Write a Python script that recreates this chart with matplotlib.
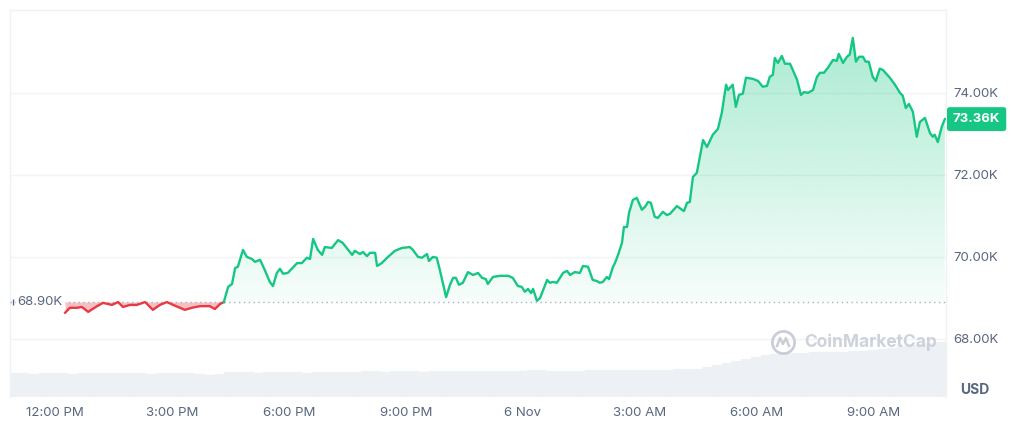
import numpy as np
import matplotlib.pyplot as plt
from matplotlib.patches import Polygon

plt.rcParams['font.family'] = ['Inter', 'DejaVu Sans']

# hours after 12:00 PM (5 Nov), price in thousand USD
red_hours = [0.26, 0.38, 0.56, 0.69, 0.85, 1.08, 1.23, 1.46, 1.62, 1.74, 1.92, 2.10,
             2.31, 2.51, 2.69, 2.87, 3.03, 3.33, 3.51, 3.72, 3.97, 4.10, 4.23, 4.33]
red_price = [68.64, 68.76, 68.76, 68.78, 68.66, 68.80, 68.88, 68.83, 68.90, 68.78, 68.83, 68.83,
             68.90, 68.71, 68.83, 68.90, 68.83, 68.71, 68.76, 68.80, 68.80, 68.73, 68.85, 68.90]

green_hours = [4.33, 4.44, 4.54, 4.62, 4.69, 4.82, 4.92, 5.05, 5.13, 5.26, 5.38, 5.51, 5.59,
               5.69, 5.77, 5.85, 5.97, 6.21, 6.33, 6.46, 6.54, 6.62, 6.74, 6.85, 6.92, 7.10,
               7.26, 7.38, 7.62, 7.69, 7.82, 7.90, 8.00, 8.08, 8.21, 8.26, 8.38, 8.54, 8.72,
               8.90, 9.10, 9.18, 9.31, 9.41, 9.54, 9.59, 9.69, 9.79, 9.87, 10.03, 10.13, 10.21,
               10.28, 10.36, 10.46, 10.59, 10.72, 10.85, 10.95, 11.05, 11.10, 11.23, 11.41,
               11.62, 11.74, 11.87, 11.97, 12.05, 12.13, 12.21, 12.26, 12.36, 12.44, 12.62,
               12.69, 12.77, 12.87, 13.03, 13.13, 13.21, 13.33, 13.46, 13.54, 13.67, 13.79,
               13.90, 13.97, 14.05, 14.15, 14.21, 14.31, 14.36, 14.44, 14.54, 14.59, 14.67,
               14.72, 14.82, 14.92, 15.05, 15.13, 15.21, 15.28, 15.38, 15.46, 15.59, 15.69,
               15.77, 15.95, 16.08, 16.13, 16.21, 16.28, 16.36, 16.46, 16.62, 16.72, 16.87,
               17.00, 17.10, 17.21, 17.26, 17.38, 17.46, 17.54, 17.64, 17.72, 17.90, 18.03,
               18.15, 18.26, 18.33, 18.41, 18.46, 18.54, 18.64, 18.72, 18.85, 18.92, 19.03,
               19.13, 19.21, 19.31, 19.44, 19.54, 19.62, 19.72, 19.82, 19.95, 20.05, 20.10,
               20.21, 20.31, 20.38, 20.46, 20.54, 20.62, 20.72, 20.79, 20.87, 20.97, 21.05,
               21.15, 21.23, 21.41, 21.54, 21.67, 21.74, 21.82, 21.90, 22.00, 22.10, 22.18,
               22.31, 22.44, 22.51, 22.56, 22.64, 22.74, 22.82]
green_price = [68.90, 69.27, 69.34, 69.73, 69.76, 70.17, 70.00, 69.95, 69.88, 69.93, 69.68, 69.39,
               69.29, 69.61, 69.71, 69.59, 69.61, 69.85, 69.85, 69.98, 69.95, 70.44, 70.17,
               70.05, 70.24, 70.22, 70.41, 70.34, 70.05, 70.15, 70.07, 70.12, 70.02, 70.10,
               70.10, 69.78, 69.85, 70.00, 70.15, 70.22, 70.24, 70.17, 70.00, 69.98, 70.07,
               69.90, 70.00, 69.98, 69.68, 69.02, 69.32, 69.49, 69.49, 69.32, 69.37, 69.63,
               69.56, 69.61, 69.49, 69.46, 69.34, 69.51, 69.54, 69.54, 69.49, 69.29, 69.27,
               69.15, 69.22, 69.12, 69.22, 68.93, 69.00, 69.44, 69.37, 69.39, 69.37, 69.61,
               69.66, 69.56, 69.63, 69.61, 69.78, 69.76, 69.44, 69.41, 69.37, 69.39, 69.51,
               69.46, 69.76, 69.85, 70.05, 70.34, 70.73, 70.73, 71.07, 71.39, 71.44, 71.15,
               71.22, 71.34, 71.32, 70.98, 70.95, 71.10, 71.02, 71.05, 71.24, 71.15, 71.12,
               71.32, 71.34, 71.95, 72.05, 72.85, 72.68, 72.98, 73.12, 73.51, 74.20, 74.07,
               74.20, 73.66, 73.95, 73.98, 74.37, 74.34, 74.29, 74.15, 74.17, 74.39, 74.44,
               74.85, 74.73, 74.90, 74.71, 74.71, 74.56, 74.32, 73.95, 74.02, 74.00, 74.07,
               74.39, 74.49, 74.49, 74.61, 74.80, 74.78, 74.95, 74.73, 74.88, 74.93, 75.34,
               74.76, 74.88, 74.88, 74.76, 74.76, 74.39, 74.29, 74.59, 74.56, 74.37, 74.20,
               74.00, 73.93, 73.63, 73.73, 73.54, 72.93, 73.29, 73.39, 73.02, 72.93, 72.98,
               72.80, 73.17, 73.36]

# 24h volume, one bar per 15 minutes, in billion USD
volume = [48, 48, 46, 48, 48, 48, 46, 48, 48, 48, 48, 48, 48, 48, 46, 48, 48, 48, 48, 46,
          44, 46, 50, 50, 50, 48, 50, 50, 50, 50, 48, 50, 50, 50, 50, 50, 52, 52, 50, 52,
          52, 52, 50, 52, 52, 52, 52, 52, 52, 52, 52, 52, 52, 54, 54, 52, 52, 52, 52, 54,
          54, 54, 54, 54, 54, 54, 54, 54, 56, 56, 56, 60, 64, 68, 72, 76, 80, 84, 86, 88,
          88, 88, 90, 90, 90, 90, 92, 92, 94, 96, 98, 102, 104, 106, 108, 110]
vol_start = -1.154

open_price = 68.90
last_price = 73.36
y_ticks = [68, 70, 72, 74]
x_ticks = [0, 3, 6, 9, 12, 15, 18, 21]
x_labels = ['12:00 PM', '3:00 PM', '6:00 PM', '9:00 PM', '6 Nov', '3:00 AM', '6:00 AM', '9:00 AM']

GREEN = '#16c784'
RED = '#ea3943'
GREY = '#58667e'

fig = plt.figure(figsize=(10.12, 4.21), dpi=100)
ax = fig.add_axes([10 / 1012, 24 / 421, 936 / 1012, 387 / 421])
ax2 = ax.twinx()
ax.set_zorder(ax2.get_zorder() + 1)
ax.patch.set_visible(False)

x_min, x_max = -1.154, 22.85
y_min, y_max = 66.585, 76.02

# volume bars
vol_x = vol_start + 0.125 + 0.25 * np.arange(len(volume))
ax2.bar(vol_x, volume, width=0.25, color='#edf0f4', edgecolor='#f5f6f8', linewidth=0.3)
ax2.set_ylim(0, 774)
ax2.set_yticks([])
for s in ax2.spines.values():
    s.set_visible(False)

# gridlines
for t in y_ticks:
    ax.axhline(t, color='#f1f3f6', lw=1, zorder=0)

# red area + line
ax.fill_between(red_hours, red_price, open_price, color=RED, alpha=0.32, lw=0, zorder=2)
ax.plot(red_hours, red_price, color=RED, lw=1.7, zorder=4, solid_joinstyle='round')

# green gradient area
poly = Polygon(list(zip(green_hours, green_price)) + [(green_hours[-1], open_price), (green_hours[0], open_price)],
               closed=True, facecolor='none', edgecolor='none')
ax.add_patch(poly)
grad_v = np.linspace(open_price, y_max, 200)
alpha = np.clip(0.035 + 0.05 * (grad_v - open_price), 0, 1)
img = np.zeros((200, 1, 4))
img[:, 0, 0] = 22 / 255
img[:, 0, 1] = 199 / 255
img[:, 0, 2] = 132 / 255
img[:, 0, 3] = alpha
im = ax.imshow(img, extent=[x_min, x_max, open_price, y_max], origin='lower', aspect='auto', zorder=2)
im.set_clip_path(poly)
ax.plot(green_hours, green_price, color=GREEN, lw=1.7, zorder=4, solid_joinstyle='round')

# opening price dotted line
ax.axhline(open_price, color='#a9b1bf', lw=1, linestyle=(0, (1, 2.5)), zorder=3)
ax.text(0.008, open_price, '68.90K', transform=ax.get_yaxis_transform(), ha='left', va='center',
        fontsize=9.5, color=GREY, zorder=5,
        bbox=dict(boxstyle='square,pad=0.15', facecolor='white', edgecolor='none'))
ax.plot([0.003], [open_price], marker='|', markersize=4, color=GREY, lw=0,
        transform=ax.get_yaxis_transform(), zorder=5)

ax.set_xlim(x_min, x_max)
ax.set_ylim(y_min, y_max)

ax.yaxis.tick_right()
ax.set_yticks(y_ticks)
ax.set_yticklabels([f'{t:.2f}K' for t in y_ticks])
ax.set_xticks(x_ticks)
ax.set_xticklabels(x_labels)
ax.tick_params(axis='both', length=0, labelsize=9.5, labelcolor=GREY)
ax.tick_params(axis='y', pad=5)
ax.tick_params(axis='x', pad=7)

for name, s in ax.spines.items():
    if name == 'bottom':
        s.set_visible(False)
    else:
        s.set_color('#eff1f4')
        s.set_linewidth(1)

# current price tag
ax.annotate(f'{last_price:.2f}K', xy=(1.0, last_price), xycoords=('axes fraction', 'data'),
            xytext=(5, 0), textcoords='offset points', ha='left', va='center',
            fontsize=9.5, fontweight='bold', color='white', zorder=6, annotation_clip=False,
            bbox=dict(boxstyle='round,pad=0.45,rounding_size=0.2', facecolor=GREEN, edgecolor='none'))

fig.text(975 / 1012, 1 - 390 / 421, 'USD', ha='center', va='center', fontsize=10,
         fontweight='bold', color=GREY)

# watermark
fig.text(871 / 1012, 1 - 342 / 421, 'CoinMarketCap', ha='center', va='center', fontsize=12.5,
         fontweight='bold', color='#c9ced8', alpha=0.9, zorder=7)
fig.lines.append(plt.Line2D([783 / 1012], [1 - 342 / 421], marker='o', markersize=16,
                            markerfacecolor='none', markeredgecolor='#c9ced8', markeredgewidth=2,
                            transform=fig.transFigure, figure=fig))
fig.lines.append(plt.Line2D([777 / 1012, 780 / 1012, 783 / 1012, 786 / 1012, 789 / 1012],
                            [1 - 346 / 421, 1 - 338 / 421, 1 - 344 / 421, 1 - 338 / 421, 1 - 346 / 421],
                            color='#c9ced8', lw=1.8, transform=fig.transFigure, figure=fig))

fig.savefig('out.png', dpi=100)
